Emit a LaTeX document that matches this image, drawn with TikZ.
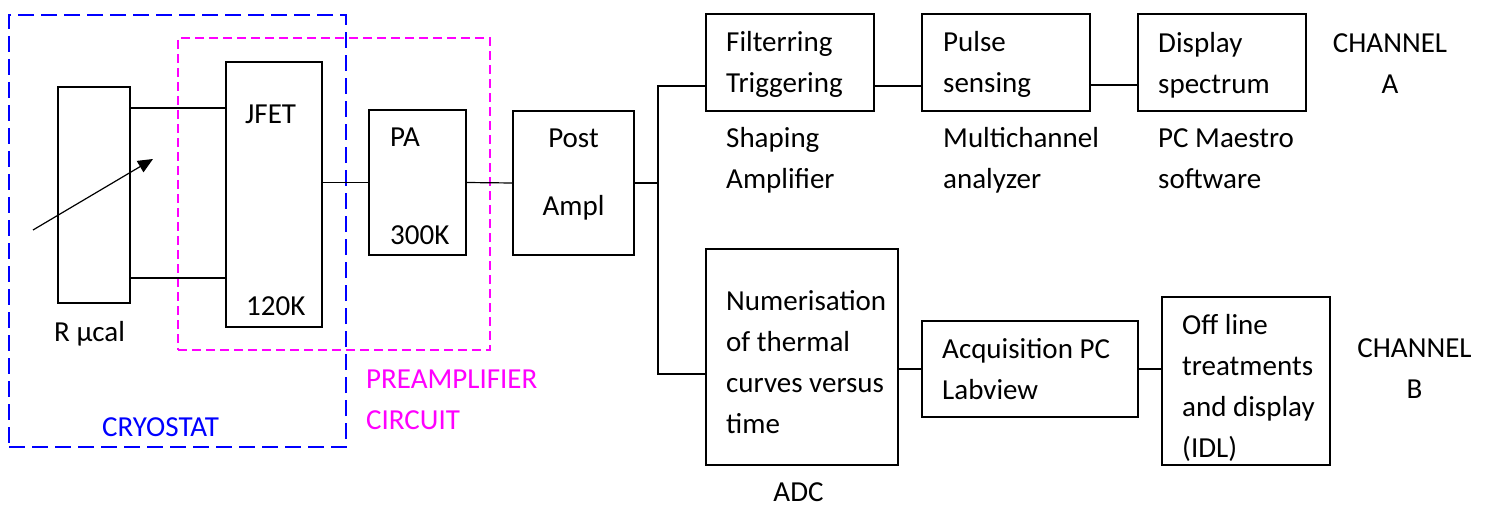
\documentclass[tikz,border=0pt]{standalone}
\usepackage{fontspec}
\setmainfont{Carlito}
\usetikzlibrary{arrows.meta}
\newcommand\ltwo[2]{\vtop{\hbox{#1}\hbox{#2}}}
\newcommand\lfour[4]{\vtop{\hbox{#1}\hbox{#2}\hbox{#3}\hbox{#4}}}
\newcommand\ctwo[2]{\vtop{\halign{\hfil##\hfil\cr#1\cr#2\cr}}}
\definecolor{cryoblue}{RGB}{0,0,255}
\definecolor{premag}{RGB}{255,0,255}
\tikzset{
  box/.style={draw=black, line width=1.2pt, inner sep=0pt, outer sep=0pt},
  wire/.style={draw=black, line width=1.2pt},
  txt/.style={inner sep=0pt, anchor=base west, font=\fontsize{29}{41}\selectfont},
  ctxt/.style={inner sep=0pt, anchor=base, font=\fontsize{29}{41}\selectfont},
  cryobox/.style={draw=cryoblue, line width=1.4pt, dash pattern=on 16pt off 7pt, inner sep=0pt, outer sep=0pt},
  prebox/.style={draw=premag, line width=1.2pt, dash pattern=on 9pt off 5pt, inner sep=0pt, outer sep=0pt},
}
\begin{document}
\begin{tikzpicture}[x=1pt,y=-1pt]
\useasboundingbox[fill=white] (0,0) rectangle (1485,505);
% dashed enclosures
\node[cryobox, minimum width=337pt, minimum height=432pt] (cryo) at (177.5,231) {};
\node[prebox, minimum width=312pt, minimum height=312pt] (pre) at (334,194) {};
% boxes
\node[box, minimum width=72pt, minimum height=216pt] (rcal) at (94,195) {};
\node[box, minimum width=96pt, minimum height=265pt] (jfet) at (274,194.5) {};
\node[box, minimum width=97pt, minimum height=145pt] (pa) at (417.5,182.5) {};
\node[box, minimum width=121pt, minimum height=144pt] (post) at (573.5,183) {};
\node[box, minimum width=168pt, minimum height=97pt] (filt) at (790,62.5) {};
\node[box, minimum width=168pt, minimum height=97pt] (pulse) at (1006,62.5) {};
\node[box, minimum width=168pt, minimum height=97pt] (disp) at (1222,62.5) {};
\node[box, minimum width=192pt, minimum height=216pt] (adc) at (802,357) {};
\node[box, minimum width=216pt, minimum height=96pt] (acq) at (1030,369) {};
\node[box, minimum width=168pt, minimum height=168pt] (off) at (1246,381) {};
% texts
\node[txt] (tjfet) at (245,124) {JFET};
\node[txt] (t120) at (246,315) {120K};
\node[txt] (trcal) at (54,341) {R µcal};
\node[txt] (tpa) at (390,147) {PA};
\node[txt] (t300) at (390,244) {300K};
\node[ctxt] (tpost) at (573.5,148) {Post};
\node[ctxt] (tampl) at (573.5,215) {Ampl};
\node[txt, text=premag] (tpre) at (366,388) {\ltwo{PREAMPLIFIER}{CIRCUIT}};
\node[txt, text=cryoblue] (tcryo) at (102,436) {CRYOSTAT};
\node[txt] (tfilt) at (726,52) {\ltwo{Filterring}{Triggering}};
\node[txt] (tshap) at (726,148) {\ltwo{Shaping}{Amplifier}};
\node[txt] (tpulse) at (943,52) {\ltwo{Pulse}{sensing}};
\node[txt] (tmca) at (943,148) {\ltwo{Multichannel}{analyzer}};
\node[txt] (tdisp) at (1158,53) {\ltwo{Display}{spectrum}};
\node[txt] (tpcm) at (1158,148) {\ltwo{PC Maestro}{software}};
\node[ctxt] (tcha) at (1390,53) {\ctwo{CHANNEL}{A}};
\node[txt] (tnum) at (726,310) {\lfour{Numerisation}{of thermal}{curves versus}{time}};
\node[ctxt] (tadc) at (798.5,501) {ADC};
\node[txt] (tacq) at (942,358) {\ltwo{Acquisition PC}{Labview}};
\node[txt] (toff) at (1182,334) {\lfour{Off line}{treatments}{and display}{(IDL)}};
\node[ctxt] (tchb) at (1414.5,357) {\ctwo{CHANNEL}{B}};
% connectors
\coordinate (r1) at ([yshift=-21pt]rcal.north east);
\coordinate (r2) at ([yshift=25pt]rcal.south east);
\draw[wire] (r1) -- (r1 -| jfet.west);
\draw[wire] (r2) -- (r2 -| jfet.west);
\draw[wire] (pa.west -| jfet.east) -- (pa.west);
\draw[wire] (pa.east) -- (post.west);
\coordinate (br) at ([xshift=24pt]post.east);
\coordinate (fl) at ([yshift=25pt]filt.south west);
\coordinate (al) at ([yshift=91pt]adc.south west);
\draw[wire] (post.east) -- (br);
\draw[wire] (fl) -| (br |- al) -- (al);
\coordinate (fp) at ([yshift=25pt]filt.south east);
\draw[wire] (fp) -- (fp -| pulse.west);
\coordinate (pd) at ([yshift=26pt]pulse.south east);
\draw[wire] (pd) -- (pd -| disp.west);
\draw[wire] (acq.west -| adc.east) -- (acq.west);
\draw[wire] (acq.east) -- (acq.east -| off.west);
% arrow
\coordinate (a0) at (33,230);
\coordinate (a1) at (153,159);
\draw[line width=1.2pt, -{Triangle[length=15pt,width=13pt]}] (a0) -- (a1);
\end{tikzpicture}
\end{document}
